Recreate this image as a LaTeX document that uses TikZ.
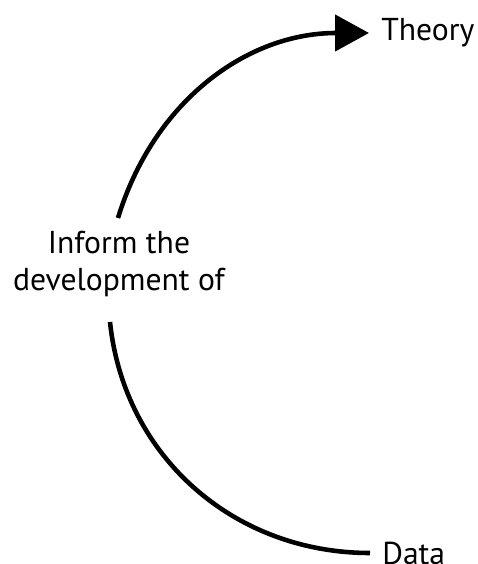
\documentclass[tikz,border=0pt]{standalone}
\usepackage{fontspec}
\setmainfont{PT Sans}
\usetikzlibrary{arrows.meta}

\begin{document}
\begin{tikzpicture}[every node/.style={font=\fontsize{18}{21}\selectfont}]
	\useasboundingbox (0,0) rectangle (9.56,11.28);
	\node (theory) [anchor=west, inner sep=0.24cm] at (7.38, 10.62) {Theory};
	\node (data) [anchor=west, inner sep=0.24cm] at (7.40, 0.22) {Data};
	\node (inform) [align=center] at (2.38, 6.0) {Inform the\\development of};
	\coordinate (up) at (2.36, 6.92);
	\coordinate (lo) at (2.20, 4.84);
	\draw[line width=2.6pt, -{Triangle[length=0.68cm, width=0.72cm]}] (up) to[out=73, in=180] (theory.west);
	\draw[line width=2.6pt] (lo) to[out=-84, in=180] (data.west);
\end{tikzpicture}
\end{document}
